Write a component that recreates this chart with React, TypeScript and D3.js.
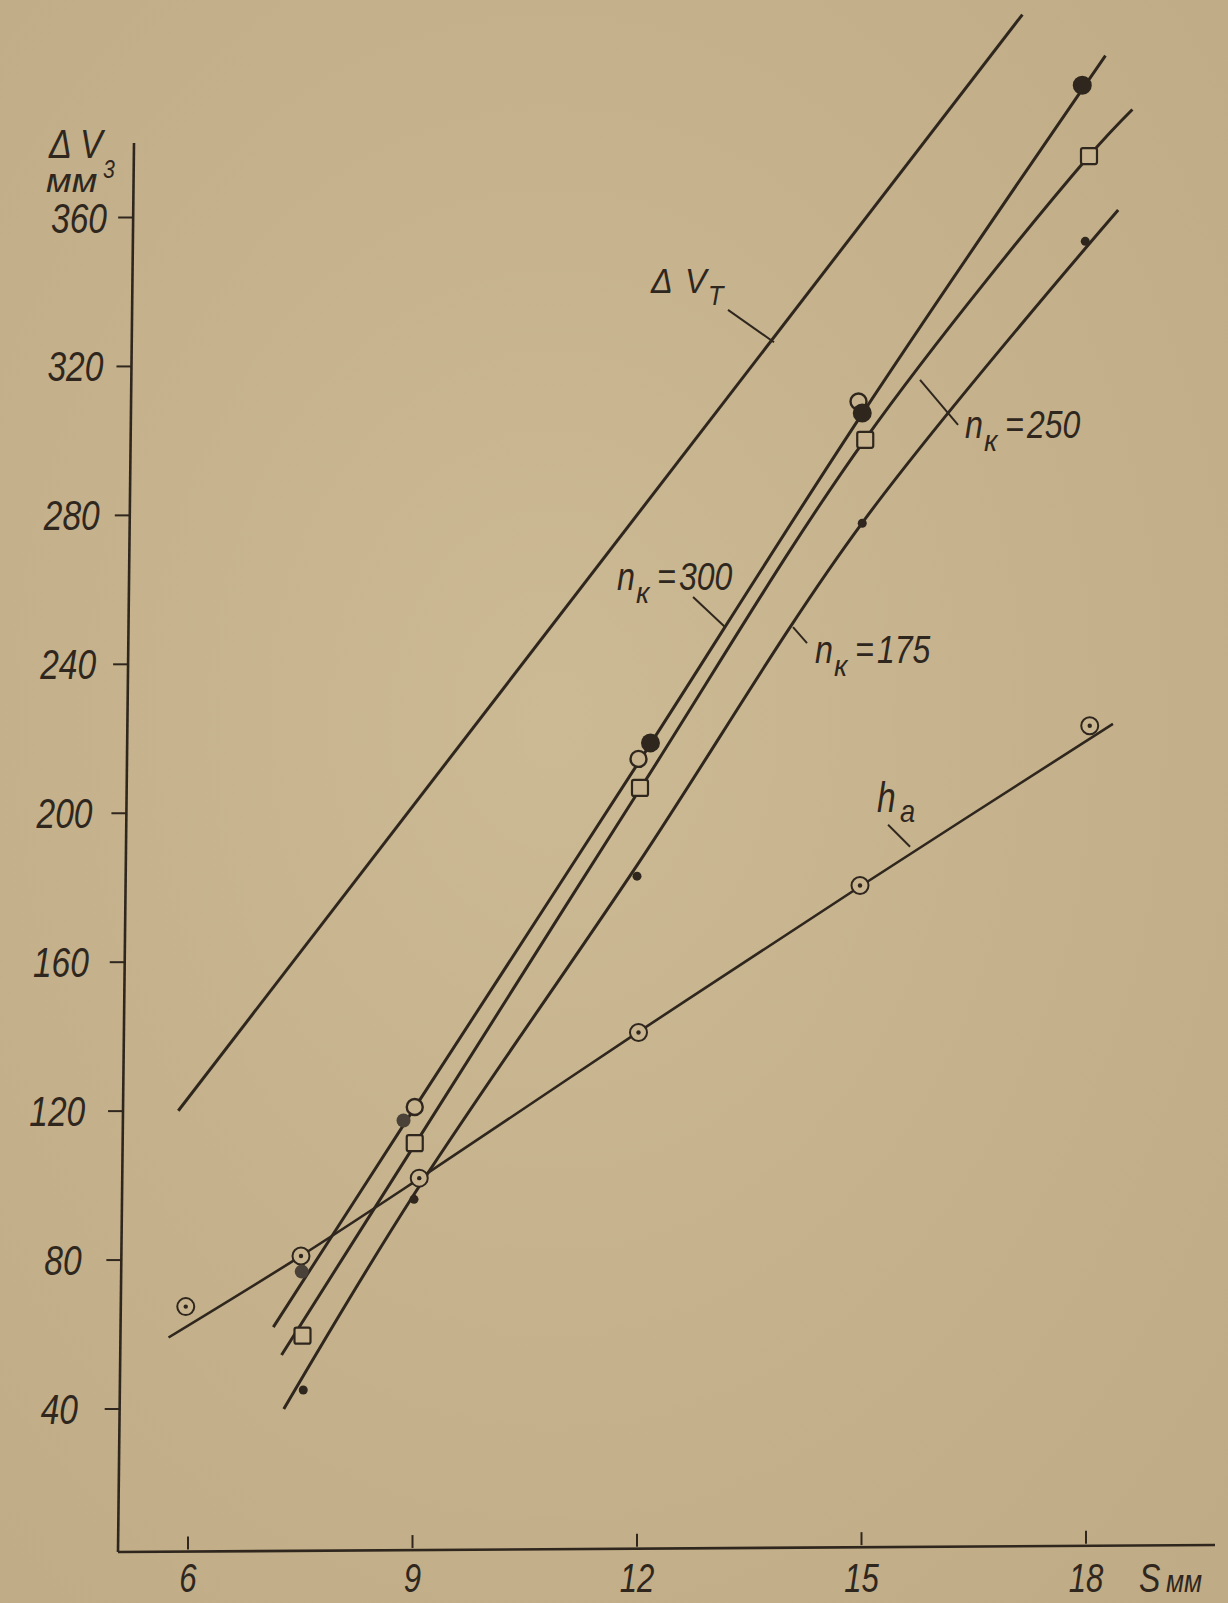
import React from "react";
import * as d3 from "d3";

// ---- data ----
const S_TICKS = [6, 9, 12, 15, 18];
const DV_TICKS = [40, 80, 120, 160, 200, 240, 280, 320, 360];

// theoretical line ΔV_T
const DVT_LINE: [number, number][] = [[5.87, 120.1], [17.15, 414.5]];
// fitted curves
const N300_LINE: [number, number][] = [[7.14, 62], [9, 120], [12, 213], [15, 307], [18.26, 403.5]];
const N250_LINE: [number, number][] = [[7.25, 54.5], [9.03, 111], [12.04, 206.5], [15.05, 300.5], [18.04, 376.5], [18.62, 389]];
const N175_LINE: [number, number][] = [[7.28, 40], [9, 97], [12, 186], [15.01, 278], [18.43, 362]];
const HA_LINE: [number, number][] = [[5.74, 59.2], [7.5, 81], [9.1, 102], [12, 141], [15, 180.6], [18.36, 224]];

// measured points
const N300_PTS: [number, number][] = [[7.52, 76.9], [8.88, 117.5], [12.18, 218.9], [15.01, 307.5], [17.95, 395.5]];
const OPEN_PTS: [number, number][] = [[9.03, 121.1], [12.02, 214.6], [14.96, 310.6]];
const N250_PTS: [number, number][] = [[7.53, 59.7], [9.03, 111.4], [12.04, 206.8], [15.05, 300.3], [18.04, 376.5]];
const N175_PTS: [number, number][] = [[7.54, 45.1], [9.02, 96.3], [12.0, 183.1], [15.01, 277.9], [17.99, 353.6]];
const HA_PTS: [number, number][] = [[5.97, 67.5], [7.51, 81.1], [9.09, 102], [12.02, 141.1], [14.98, 180.6], [18.05, 223.5]];

// annotation leaders (data coords)
const LEADERS: [number, number, number, number][] = [
  [13.216, 335.2, 13.831, 326.5], // ΔV_T
  [12.749, 258.1, 13.176, 250.0], // n=300
  [14.085, 250.0, 14.272, 245.7], // n=175
  [15.782, 316.4, 16.29, 304.3], // n=250
  [15.355, 196.9, 15.649, 191.0], // h_a
];

const W = 1228;
const H = 1603;
const PAPER = "#c8b58f";
const INK = "#2f271e";
const FONT = "'Liberation Sans', Arial, sans-serif";

const x = d3.scaleLinear().domain([6, 18]).range([188, 1086]);
const y = d3.scaleLinear().domain([40, 360]).range([1409, 217.5]);
const axisX = d3.scaleLinear().domain([0, 380]).range([118, 134]);
const tickLabelRight = d3.scaleLinear().domain([40, 360]).range([78, 107]);

const lineLin = d3.line<[number, number]>().x((d) => x(d[0])).y((d) => y(d[1])).curve(d3.curveLinear);
const lineCurve = d3.line<[number, number]>().x((d) => x(d[0])).y((d) => y(d[1])).curve(d3.curveCatmullRom.alpha(0.5));

function T(props: { x: number; y: number; size: number; sx?: number; anchor?: string; children: React.ReactNode }) {
  const { size, sx = 0.8, anchor = "start" } = props;
  return (
    <text
      transform={`translate(${props.x},${props.y}) scale(${sx},1)`}
      fontSize={size}
      fontStyle="italic"
      fontFamily={FONT}
      fill={INK}
      textAnchor={anchor}
    >
      {props.children}
    </text>
  );
}

function NLabel({ sx, sy, num }: { sx: number; sy: number; num: string }) {
  const px = x(sx);
  const py = y(sy);
  return (
    <g>
      <T x={px} y={py} size={38} sx={0.85}>n</T>
      <T x={px + 19} y={py + 13} size={30} sx={0.95}>к</T>
      <T x={px + 40} y={py} size={38} sx={0.85}>=</T>
      <T x={px + 62} y={py} size={39} sx={0.82}>{num}</T>
    </g>
  );
}

export default function App() {
  const yAxisTop = 380;
  return (
    <svg
      width={W}
      height={H}
      viewBox={`0 0 ${W} ${H}`}
      style={{ position: "absolute", left: 0, top: 0, display: "block" }}
    >
      <defs>
        <radialGradient id="paper" cx="45%" cy="45%" r="75%">
          <stop offset="0%" stopColor="#ccba95" />
          <stop offset="100%" stopColor="#bfab85" />
        </radialGradient>
      </defs>
      <rect x={0} y={0} width={W} height={H} fill="url(#paper)" />

      {/* axes */}
      <line x1={axisX(yAxisTop)} y1={y(yAxisTop)} x2={axisX(0)} y2={1552} stroke={INK} strokeWidth={2.6} />
      <line x1={axisX(0)} y1={1552} x2={1215} y2={1545} stroke={INK} strokeWidth={2.6} />

      {/* y ticks */}
      {DV_TICKS.map((v) => (
        <g key={v}>
          <line x1={axisX(v) - 15} y1={y(v)} x2={axisX(v)} y2={y(v)} stroke={INK} strokeWidth={2} />
          <T x={tickLabelRight(v)} y={y(v) + 15} size={43} sx={0.78} anchor="end">{v}</T>
        </g>
      ))}

      {/* x ticks */}
      {S_TICKS.map((s) => (
        <g key={s}>
          <line x1={x(s)} y1={1550 - (x(s) - 118) * 0.0065} x2={x(s)} y2={1537 - (x(s) - 118) * 0.0065} stroke={INK} strokeWidth={2} />
          <T x={x(s)} y={1592} size={41} sx={0.76} anchor="middle">{s}</T>
        </g>
      ))}
      <T x={1139} y={1592} size={40} sx={0.8}>S</T>
      <T x={1166} y={1592} size={31} sx={0.85}>мм</T>

      {/* y axis title */}
      <T x={49} y={158} size={40} sx={0.85}>Δ V</T>
      <T x={46} y={192} size={34} sx={1.1}>мм</T>
      <T x={103} y={178} size={25} sx={0.85}>3</T>

      {/* lines */}
      <path d={lineLin(DVT_LINE) || ""} fill="none" stroke={INK} strokeWidth={3} />
      <path d={lineCurve(N300_LINE) || ""} fill="none" stroke={INK} strokeWidth={3} />
      <path d={lineCurve(N250_LINE) || ""} fill="none" stroke={INK} strokeWidth={3} />
      <path d={lineCurve(N175_LINE) || ""} fill="none" stroke={INK} strokeWidth={3} />
      <path d={lineCurve(HA_LINE) || ""} fill="none" stroke={INK} strokeWidth={2.6} />

      {/* leaders */}
      {LEADERS.map((l, i) => (
        <line key={i} x1={x(l[0])} y1={y(l[1])} x2={x(l[2])} y2={y(l[3])} stroke={INK} strokeWidth={2} />
      ))}

      {/* markers */}
      {HA_PTS.map((d, i) => (
        <g key={"ha" + i}>
          <circle cx={x(d[0])} cy={y(d[1])} r={8.5} fill={PAPER} stroke={INK} strokeWidth={2} />
          <circle cx={x(d[0])} cy={y(d[1])} r={2.2} fill={INK} />
        </g>
      ))}
      {N250_PTS.map((d, i) => (
        <rect key={"sq" + i} x={x(d[0]) - 8} y={y(d[1]) - 8} width={16} height={16} rx={2} fill={PAPER} stroke={INK} strokeWidth={2.2} />
      ))}
      {N175_PTS.map((d, i) => (
        <circle key={"sd" + i} cx={x(d[0])} cy={y(d[1])} r={4.5} fill={INK} />
      ))}
      {OPEN_PTS.map((d, i) => (
        <circle key={"oc" + i} cx={x(d[0])} cy={y(d[1])} r={8} fill={PAPER} stroke={INK} strokeWidth={2.4} />
      ))}
      {N300_PTS.map((d, i) => (
        <circle key={"fc" + i} cx={x(d[0])} cy={y(d[1])} r={i < 2 ? 7 : 9.5} fill={i < 2 ? "#4a4238" : INK} />
      ))}

      {/* labels */}
      <T x={x(12.187)} y={y(339.8)} size={36} sx={0.9}>Δ</T>
      <T x={x(12.187) + 34} y={y(339.8)} size={36} sx={0.9}>V</T>
      <T x={x(12.187) + 57} y={y(339.8) + 12} size={28} sx={0.9}>T</T>

      <NLabel sx={11.733} sy={260.0} num="300" />
      <NLabel sx={14.379} sy={240.4} num="175" />
      <NLabel sx={16.383} sy={300.8} num="250" />

      <T x={x(15.208)} y={y(200.4)} size={42} sx={0.8}>h</T>
      <T x={x(15.208) + 23} y={y(200.4) + 10} size={32} sx={0.85}>a</T>
    </svg>
  );
}
